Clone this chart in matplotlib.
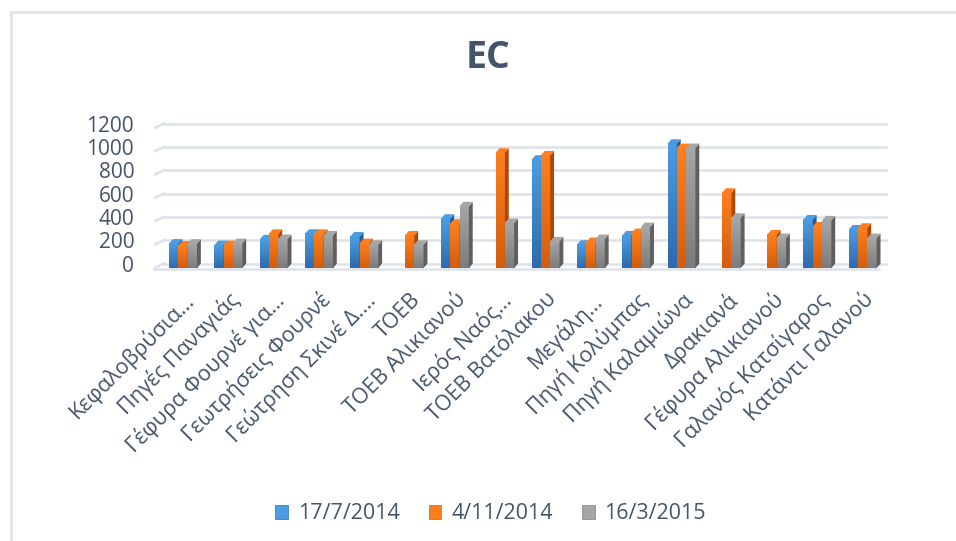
import numpy as np
import matplotlib.pyplot as plt
from matplotlib.colors import LinearSegmentedColormap
from matplotlib.patches import Patch, Rectangle

plt.rcParams['font.family'] = ['Open Sans', 'DejaVu Sans']

stations = [
    "Κεφαλοβρύσια…", "Πηγές Παναγιάς", "Γέφυρα Φουρνέ για…", "Γεωτρήσεις Φουρνέ",
    "Γεώτρηση Σκινέ Δ.…", "ΤΟΕΒ", "ΤΟΕΒ Αλικιανού", "Ιερός Ναός…",
    "ΤΟΕΒ Βατόλακου", "Μεγάλη…", "Πηγή Κολύμπας", "Πηγή Καλαμιώνα",
    "Δρακιανά", "Γέφυρα Αλικιανού", "Γαλανός Κατσίγαρος", "Κατάντι Γαλανού",
]
dates = ["17/7/2014", "4/11/2014", "16/3/2015"]

ec_jul14 = [210, 197, 246, 294, 271, np.nan, 423, np.nan,
            929, 200, 280, 1066, np.nan, np.nan, 417, 331]
ec_nov14 = [194, 197, 294, 294, 214, 280, 380, 989,
            966, 223, 300, 1029, 646, 289, 357, 346]
ec_mar15 = [209, 214, 249, 280, 200, 200, 529, 386,
            229, 249, 351, 1029, 431, 257, 409, 257]

# (light top, dark bottom, side face) per series
palette = [
    ("#4b9de3", "#2d6aad", "#255a94"),
    ("#ff7f1e", "#d45d0c", "#a94a08"),
    ("#a6a6a6", "#7c7c7c", "#5f5f5f"),
]
text_col = "#44546a"
grid_col = "#dde1e8"

fig = plt.figure(figsize=(9.56, 5.41), dpi=100)
fig.patches.append(Rectangle((0.0115, -0.05), 1.05, 1.028, transform=fig.transFigure,
                             fill=False, ec="#e1e4ea", lw=2))
ax = fig.add_axes([0.1607, 0.5046, 0.7678, 0.2695])

x = np.arange(len(stations))
w = 0.205
dx = 0.085   # depth offset in x (category units)
dy = 38      # depth offset in y (data units)
ymax = 1250

# back wall gridlines with a short slanted side-wall segment
ticks = np.arange(0, 1201, 200)
for t in ticks:
    ax.plot([-0.42, 15.55], [t + dy, t + dy], color=grid_col, lw=1.8, zorder=0)
    ax.plot([-0.64, -0.42], [t, t + dy], color=grid_col, lw=1.8, zorder=0)
ax.plot([-0.64, 15.35], [-12, -12], color=grid_col, lw=1.8, zorder=0, clip_on=False)

grad = np.linspace(0, 1, 64).reshape(-1, 1)
series = [ec_jul14, ec_nov14, ec_mar15]
for k, vals in enumerate(series):
    light, dark, side = palette[k]
    cmap = LinearSegmentedColormap.from_list("g%d" % k, [dark, light])
    for i, v in enumerate(vals):
        if np.isnan(v):
            continue
        x0 = x[i] + (k - 1) * w - w / 2
        x1 = x0 + w
        ax.imshow(grad, extent=[x0, x1, 0, v], origin="lower", cmap=cmap,
                  aspect="auto", zorder=2 + k, interpolation="bilinear")
        ax.fill([x1, x1 + dx, x1 + dx, x1], [0, dy, v + dy, v],
                color=side, lw=0, zorder=2 + k)
        ax.fill([x0, x0 + dx, x1 + dx, x1], [v, v + dy, v + dy, v],
                color=light, lw=0, zorder=2 + k)

ax.set_xlim(-0.65, 15.55)
ax.set_ylim(0, ymax)
ax.set_yticks(ticks + dy)
ax.set_yticklabels([str(t) for t in ticks], fontsize=15, color=text_col)
ax.set_xticks(x)
ax.set_xticklabels(stations, rotation=45, ha="right", rotation_mode="anchor",
                   fontsize=15.5, color=text_col)
ax.tick_params(axis="y", length=0, pad=14)
ax.tick_params(axis="x", length=0, pad=15)
for s in ax.spines.values():
    s.set_visible(False)

fig.text(0.511, 0.892, "EC", ha="center", va="center", fontsize=27,
         fontweight="bold", color=text_col)

handles = [Patch(facecolor=palette[k][0], edgecolor=palette[k][1], lw=0.5) for k in range(3)]
fig.legend(handles, dates, loc="center", bbox_to_anchor=(0.513, 0.05), ncol=3,
           frameon=False, fontsize=15.5, handlelength=0.6, handleheight=0.6,
           handletextpad=0.45, columnspacing=1.35, labelcolor=text_col)

fig.savefig("out.png", dpi=100)
